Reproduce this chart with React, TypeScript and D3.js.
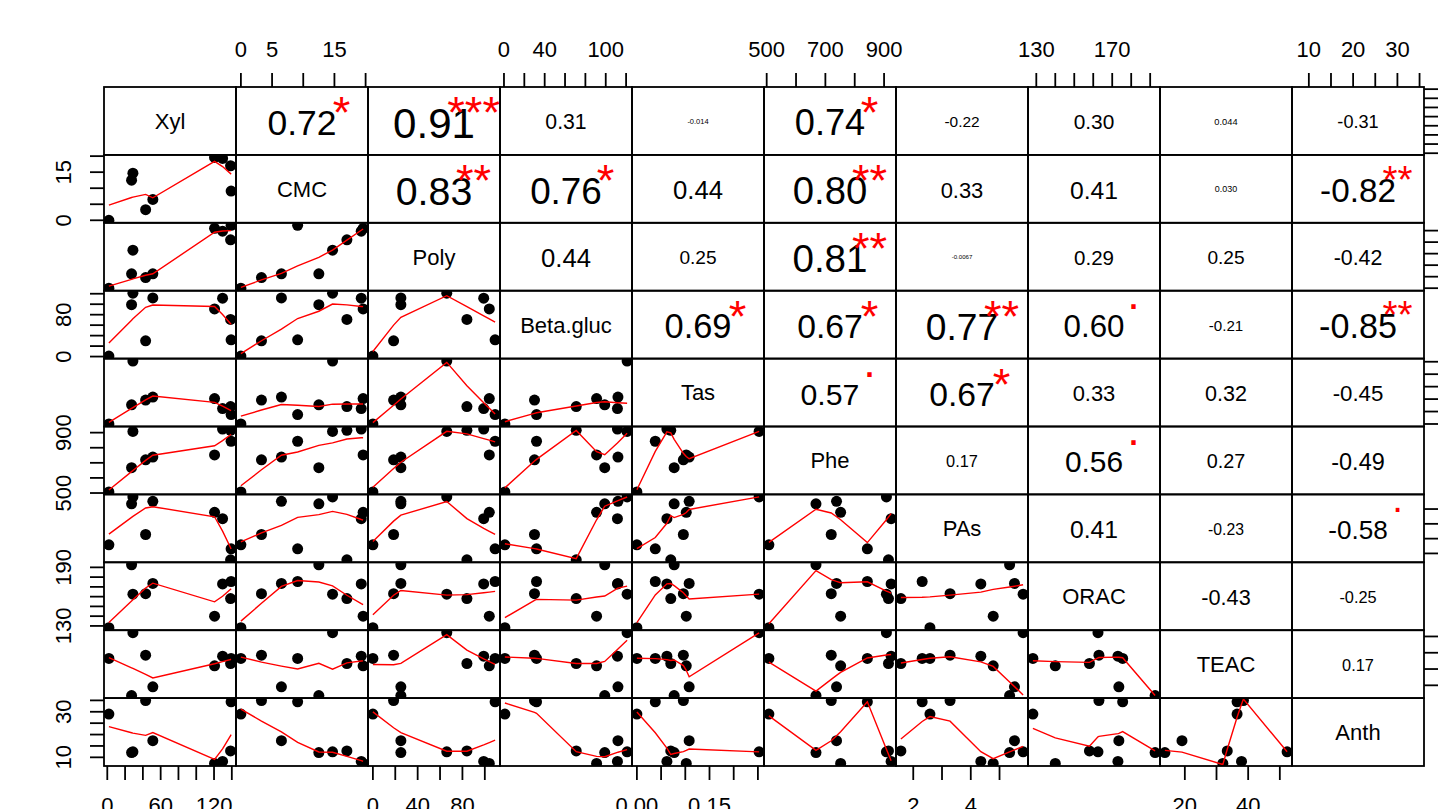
import * as d3 from "d3";
import { useEffect, useRef } from "react";

const varNames = ["Xyl", "CMC", "Poly", "Beta.gluc", "Tas", "Phe", "PAs", "ORAC", "TEAC", "Anth"];

// nine samples, same order in every array
const xyl = [1.8, 27.3, 28.8, 43.1, 51.2, 120.6, 129.6, 138.6, 139.2];
const cmc = [0, 12.5, 14.7, 3.3, 6.5, 19.6, 19.3, 17, 9.1];
const poly = [0, 25, 66, 18.5, 25, 104, 99, 84, 109.2];
const betaGluc = [0.9, 99, 121, 30, 112, 91, 111.5, 71, 32];
const tas = [0, 0.077, 0.2525, 0.096, 0.108, 0.102, 0.062, 0.07, 0.038];
const phe = [507.5, 668, 908, 720, 738, 752, 924, 915, 843];
const pas = [2.58, 5.35, 5.82, 3.28, 5.52, 4.78, 4.35, 1.57, 2.31];
const orac = [128.2, 192.6, 162.5, 163, 173.5, 140, 173, 158, 175.5];
const teac = [36.5, 13.7, 52.3, 38.5, 19.1, 32, 37.9, 33.4, 36.5];
const anth = [29, 12.1, 12.4, 34.9, 17.3, 7.3, 8.2, 12.8, 34.4];

const columns = [xyl, cmc, poly, betaGluc, tas, phe, pas, orac, teac, anth];

// upper triangle, row by row (Xyl-CMC, Xyl-Poly, ...)
const corValues = [
  "0.72", "0.91", "0.31", "-0.014", "0.74", "-0.22", "0.30", "0.044", "-0.31",
  "0.83", "0.76", "0.44", "0.80", "0.33", "0.41", "0.030", "-0.82",
  "0.44", "0.25", "0.81", "-0.0067", "0.29", "0.25", "-0.42",
  "0.69", "0.67", "0.77", "0.60", "-0.21", "-0.85",
  "0.57", "0.67", "0.33", "0.32", "-0.45",
  "0.17", "0.56", "0.27", "-0.49",
  "0.41", "-0.23", "-0.58",
  "-0.43", "-0.25",
  "0.17",
];
const corStars = [
  "*", "***", "", "", "*", "", "", "", "",
  "**", "*", "", "**", "", "", "", "**",
  "", "", "**", "", "", "", "",
  "*", "*", "**", ".", "", "**",
  ".", "*", "", "", "",
  "", ".", "", "",
  "", "", ".",
  "", "",
  "",
];

const plotLeft = 104;
const plotTop = 87;
const cellW = 132;
const cellH = 67.9;
const fontFamily = "'Liberation Sans', Arial, Helvetica, sans-serif";
const axisFont = 22;
const tickLen = 14;
const smoothSpan = 2 / 3;

let measureCtx = null;
function textWidth(txt, size) {
  if (!measureCtx) measureCtx = document.createElement("canvas").getContext("2d");
  measureCtx.font = `${size}px ${fontFamily}`;
  return measureCtx.measureText(txt).width;
}

// port of R's clowess
function lowess(xIn, yIn, f = 2 / 3, nsteps = 3) {
  const n = xIn.length;
  const order = d3.range(n).sort((a, b) => xIn[a] - xIn[b]);
  const x = [0, ...order.map((i) => xIn[i])];
  const y = [0, ...order.map((i) => yIn[i])];
  const ys = new Array(n + 1).fill(0);
  const rw = new Array(n + 1).fill(1);
  const res = new Array(n + 1).fill(0);
  const delta = 0.01 * (x[n] - x[1]);
  const ns = Math.max(2, Math.min(n, Math.floor(f * n + 1e-7)));

  function lowest(xs, nleft, nright, userw) {
    const range = x[n] - x[1];
    const h = Math.max(xs - x[nleft], x[nright] - xs);
    const h9 = 0.999 * h;
    const h1 = 0.001 * h;
    let a = 0;
    let j = nleft;
    while (j <= n) {
      res[j] = 0;
      const r = Math.abs(x[j] - xs);
      if (r <= h9) {
        res[j] = r <= h1 ? 1 : Math.pow(1 - Math.pow(r / h, 3), 3);
        if (userw) res[j] *= rw[j];
        a += res[j];
      } else if (x[j] > xs) break;
      j++;
    }
    const nrt = j - 1;
    if (a <= 0) return [0, false];
    for (j = nleft; j <= nrt; j++) res[j] /= a;
    if (h > 0) {
      a = 0;
      for (j = nleft; j <= nrt; j++) a += res[j] * x[j];
      let b = xs - a;
      let c = 0;
      for (j = nleft; j <= nrt; j++) c += res[j] * (x[j] - a) * (x[j] - a);
      if (Math.sqrt(c) > 0.001 * range) {
        b /= c;
        for (j = nleft; j <= nrt; j++) res[j] *= b * (x[j] - a) + 1;
      }
    }
    let out = 0;
    for (j = nleft; j <= nrt; j++) out += res[j] * y[j];
    return [out, true];
  }

  let iter = 1;
  while (iter <= nsteps + 1) {
    let nleft = 1;
    let nright = ns;
    let last = 0;
    let i = 1;
    for (;;) {
      if (nright < n) {
        const d1 = x[i] - x[nleft];
        const d2 = x[nright + 1] - x[i];
        if (d1 > d2) {
          nleft++;
          nright++;
          continue;
        }
      }
      const [v, ok] = lowest(x[i], nleft, nright, iter > 1);
      ys[i] = ok ? v : y[i];
      if (last < i - 1) {
        const denom = x[i] - x[last];
        for (let j = last + 1; j < i; j++) {
          const alpha = (x[j] - x[last]) / denom;
          ys[j] = alpha * ys[i] + (1 - alpha) * ys[last];
        }
      }
      last = i;
      const cut = x[last] + delta;
      for (i = last + 1; i <= n; i++) {
        if (x[i] > cut) break;
        if (x[i] === x[last]) {
          ys[i] = ys[last];
          last = i;
        }
      }
      i = Math.max(last + 1, i - 1);
      if (last >= n) break;
    }
    for (let k = 1; k <= n; k++) res[k] = y[k] - ys[k];
    let sc = 0;
    for (let k = 1; k <= n; k++) sc += Math.abs(res[k]);
    sc /= n;
    if (iter > nsteps) break;
    const sorted = res.slice(1).map(Math.abs).sort((a, b) => a - b);
    const m1 = Math.floor(n / 2);
    const cmad = n % 2 === 0 ? 3 * (sorted[m1] + sorted[n - m1 - 1]) : 6 * sorted[m1];
    if (cmad < 1e-7 * sc) break;
    const c9 = 0.999 * cmad;
    const c1 = 0.001 * cmad;
    for (let k = 1; k <= n; k++) {
      const r = Math.abs(res[k]);
      rw[k] = r <= c1 ? 1 : r <= c9 ? Math.pow(1 - Math.pow(r / cmad, 2), 2) : 0;
    }
    iter++;
  }
  return x.slice(1).map((xv, k) => [xv, ys[k + 1]]);
}

// label width as the original device measured it (slightly wider digits)
function labelWidth(label) {
  return (textWidth(label, axisFont) * 13) / textWidth("0", axisFont);
}

function drawAxis(g, scale, side, at) {
  const ticks = scale.ticks(5);
  const fmt = scale.tickFormat(5);
  const gap = 18.06;
  const horizontal = side === "top" || side === "bottom";

  ticks.forEach((t) => {
    const p = scale(t);
    const l = g.append("line").attr("stroke", "#000").attr("stroke-width", 1.8);
    if (side === "top") l.attr("x1", p).attr("x2", p).attr("y1", at).attr("y2", at - tickLen);
    if (side === "bottom") l.attr("x1", p).attr("x2", p).attr("y1", at).attr("y2", at + tickLen);
    if (side === "left") l.attr("y1", p).attr("y2", p).attr("x1", at).attr("x2", at - tickLen);
    if (side === "right") l.attr("y1", p).attr("y2", p).attr("x1", at).attr("x2", at + tickLen);
  });

  // R drops labels that would crowd the previous one
  let lastEnd = -Infinity;
  ticks.forEach((t) => {
    const p = scale(t);
    const label = fmt(t);
    const w = labelWidth(label);
    const pos = horizontal ? p : -p;
    if (pos - w / 2 < lastEnd + gap) return;
    lastEnd = pos + w / 2;
    const txt = g
      .append("text")
      .attr("text-anchor", "middle")
      .attr("font-size", axisFont)
      .attr("fill", "#000")
      .text(label);
    if (side === "top") txt.attr("x", p).attr("y", at - 30);
    if (side === "bottom") txt.attr("x", p).attr("y", at + 47);
    if (side === "left") txt.attr("transform", `translate(${at - 32.6},${p}) rotate(-90)`);
    if (side === "right") txt.attr("transform", `translate(${at + 48},${p}) rotate(-90)`);
  });
}

function drawPairs(svgElement) {
  const svg = d3.select(svgElement);
  svg.selectAll("*").remove();
  const nv = columns.length;

  const xScales = columns.map((vals, j) => {
    const [lo, hi] = d3.extent(vals);
    const pad = 0.04 * (hi - lo);
    return d3.scaleLinear().domain([lo - pad, hi + pad]).range([plotLeft + j * cellW, plotLeft + (j + 1) * cellW]);
  });
  const yScales = columns.map((vals, i) => {
    const [lo, hi] = d3.extent(vals);
    const pad = 0.04 * (hi - lo);
    return d3.scaleLinear().domain([lo - pad, hi + pad]).range([plotTop + (i + 1) * cellH, plotTop + i * cellH]);
  });

  const root = svg.append("g").attr("font-family", fontFamily);
  const defs = svg.append("defs");

  let k = 0;
  for (let i = 0; i < nv; i++) {
    for (let j = 0; j < nv; j++) {
      const x0 = plotLeft + j * cellW;
      const y0 = plotTop + i * cellH;
      const cx = x0 + cellW / 2;
      const cy = y0 + cellH / 2;

      if (i === j) {
        root
          .append("text")
          .attr("x", cx)
          .attr("y", cy + 0.36 * 22)
          .attr("text-anchor", "middle")
          .attr("font-size", 22)
          .attr("fill", "#000")
          .text(varNames[i]);
      } else if (i > j) {
        const id = `clip-${i}-${j}`;
        defs.append("clipPath").attr("id", id).append("rect").attr("x", x0).attr("y", y0).attr("width", cellW).attr("height", cellH);
        const g = root.append("g").attr("clip-path", `url(#${id})`);
        const xs = columns[j];
        const ys = columns[i];
        g.selectAll("circle")
          .data(xs.map((v, s) => [v, ys[s]]))
          .join("circle")
          .attr("cx", (d) => xScales[j](d[0]))
          .attr("cy", (d) => yScales[i](d[1]))
          .attr("r", 5.5)
          .attr("fill", "#000");
        const fit = lowess(xs, ys, smoothSpan, 3);
        g.append("path")
          .attr("d", d3.line().x((d) => xScales[j](d[0])).y((d) => yScales[i](d[1]))(fit))
          .attr("fill", "none")
          .attr("stroke", "#ff0000")
          .attr("stroke-width", 1.4);
      } else {
        const txt = corValues[k];
        const stars = corStars[k];
        k++;
        const r = Math.abs(Number(txt));
        const emW = textWidth(txt, 100) / 100;
        const base = 88 / emW;
        const fs = (base * (r + 0.3)) / 1.3;
        root
          .append("text")
          .attr("x", cx)
          .attr("y", cy + 0.4 * fs)
          .attr("text-anchor", "middle")
          .attr("font-size", fs)
          .attr("fill", "#000")
          .text(txt);
        if (stars) {
          const sx = x0 + 0.8 * cellW;
          const isDot = stars === ".";
          const target = y0 + 16;
          root
            .append("text")
            .attr("x", sx)
            .attr("y", target + (isDot ? 0.05 : 0.56) * base)
            .attr("text-anchor", "middle")
            .attr("font-size", base)
            .attr("fill", "#ff0000")
            .text(stars);
        }
      }
    }
  }

  // panel frames
  for (let i = 0; i < nv; i++) {
    for (let j = 0; j < nv; j++) {
      root
        .append("rect")
        .attr("x", plotLeft + j * cellW)
        .attr("y", plotTop + i * cellH)
        .attr("width", cellW)
        .attr("height", cellH)
        .attr("fill", "none")
        .attr("stroke", "#000")
        .attr("stroke-width", 1.8);
    }
  }

  const axes = root.append("g");
  const plotRight = plotLeft + nv * cellW;
  const plotBottom = plotTop + nv * cellH;
  for (let j = 0; j < nv; j++) {
    if (j % 2 === 1) drawAxis(axes, xScales[j], "top", plotTop);
    else drawAxis(axes, xScales[j], "bottom", plotBottom);
  }
  for (let i = 0; i < nv; i++) {
    if (i % 2 === 1) drawAxis(axes, yScales[i], "left", plotLeft);
    else drawAxis(axes, yScales[i], "right", plotRight);
  }
}

export default function App() {
  const svgRef = useRef(null);

  useEffect(() => {
    drawPairs(svgRef.current);
  }, []);

  return (
    <svg
      ref={svgRef}
      width={1443}
      height={809}
      style={{ position: "absolute", left: 0, top: 0, background: "#fff" }}
    />
  );
}
